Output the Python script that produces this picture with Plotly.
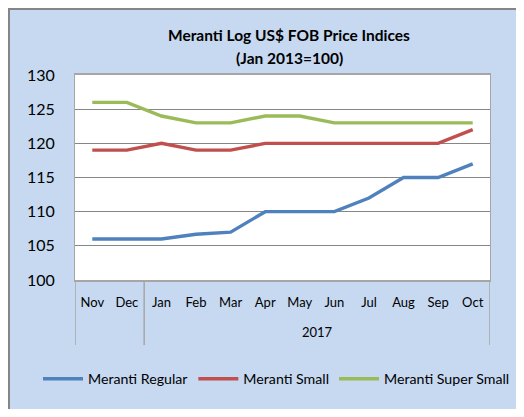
import plotly.graph_objects as go

months = ["Nov", "Dec", "Jan", "Feb", "Mar", "Apr", "May", "Jun", "Jul", "Aug", "Sep", "Oct"]
year_label = "2017"
regular = [106, 106, 106, 106.7, 107, 110, 110, 110, 112, 115, 115, 117]
small = [119, 119, 120, 119, 119, 120, 120, 120, 120, 120, 120, 122]
super_small = [126, 126, 124, 123, 123, 124, 124, 123, 123, 123, 123, 123]
series_names = ["Meranti Regular", "Meranti Small", "Meranti Super Small"]
colors = ["#4F81BD", "#C0504D", "#9BBB59"]

# page body has an 8px margin: figure is placed at screen (8, 8)
OFF = 8
W, H = 524 - OFF, 417 - 2 * OFF
# plot area in screen coordinates
L, R, T, B = 75, 490, 75, 280
FONT = "Lato"
BG = "#C6D9F1"


def px(x):
    return (x - L) / (R - L)


def py(y):
    return (B - y) / (B - T)


fig = go.Figure()
for name, vals, c in zip(series_names, [regular, small, super_small], colors):
    fig.add_trace(go.Scatter(x=months, y=vals, name=name, mode="lines",
                             line=dict(color=c, width=3.4)))

shapes = [
    dict(type="line", xref="paper", yref="paper", x0=px(9), x1=px(9), y0=py(8), y1=py(430),
         line=dict(color="#858585", width=2), layer="below"),
    dict(type="line", xref="paper", yref="paper", x0=px(8), x1=px(540), y0=py(9), y1=py(9),
         line=dict(color="#858585", width=2), layer="below"),
]
for xv in [-0.5, 1.5, 11.5]:
    shapes.append(dict(type="line", xref="x", yref="paper", x0=xv, x1=xv, y0=0, y1=py(345),
                       line=dict(color="#A6A6A6", width=1.5)))

annotations = [
    dict(text="<b>Meranti Log US$ FOB Price Indices</b>", xref="paper", yref="paper",
         x=px(289), y=py(35), xanchor="center", yanchor="middle", showarrow=False,
         font=dict(family=FONT, size=15.5, color="#000")),
    dict(text="<b>(Jan 2013=100)</b>", xref="paper", yref="paper",
         x=px(289), y=py(58), xanchor="center", yanchor="middle", showarrow=False,
         font=dict(family=FONT, size=15.5, color="#000")),
    dict(text=year_label, xref="x", yref="paper", x=(2 + 11) / 2, y=py(332),
         xanchor="center", yanchor="middle", showarrow=False,
         font=dict(family=FONT, size=13, color="#000")),
]

fig.update_layout(
    width=W, height=H,
    margin=dict(l=L - OFF, r=W - (R - OFF), t=T - OFF, b=H - (B - OFF), pad=0,
                autoexpand=False),
    paper_bgcolor=BG, plot_bgcolor="white",
    font=dict(family=FONT, color="#000"),
    showlegend=True,
    legend=dict(orientation="h", x=px(38), xanchor="left",
                y=py(379), yanchor="middle",
                bgcolor="rgba(0,0,0,0)", font=dict(family=FONT, size=14.2),
                itemwidth=40, traceorder="normal"),
    shapes=shapes, annotations=annotations,
    xaxis=dict(type="category", range=[-0.5, 11.5], showgrid=False, ticks="",
               showline=True, linecolor="#A6A6A6", linewidth=1.5, mirror=True,
               tickfont=dict(family=FONT, size=13), ticklabelstandoff=10),
    yaxis=dict(range=[100, 130], dtick=5, showgrid=True, gridcolor="#868686", gridwidth=1,
               ticks="", showline=True, linecolor="#A6A6A6", linewidth=1, mirror=True,
               zeroline=False, tickfont=dict(family=FONT, size=16), ticklabelstandoff=16),
)

fig.write_html("out.html")
